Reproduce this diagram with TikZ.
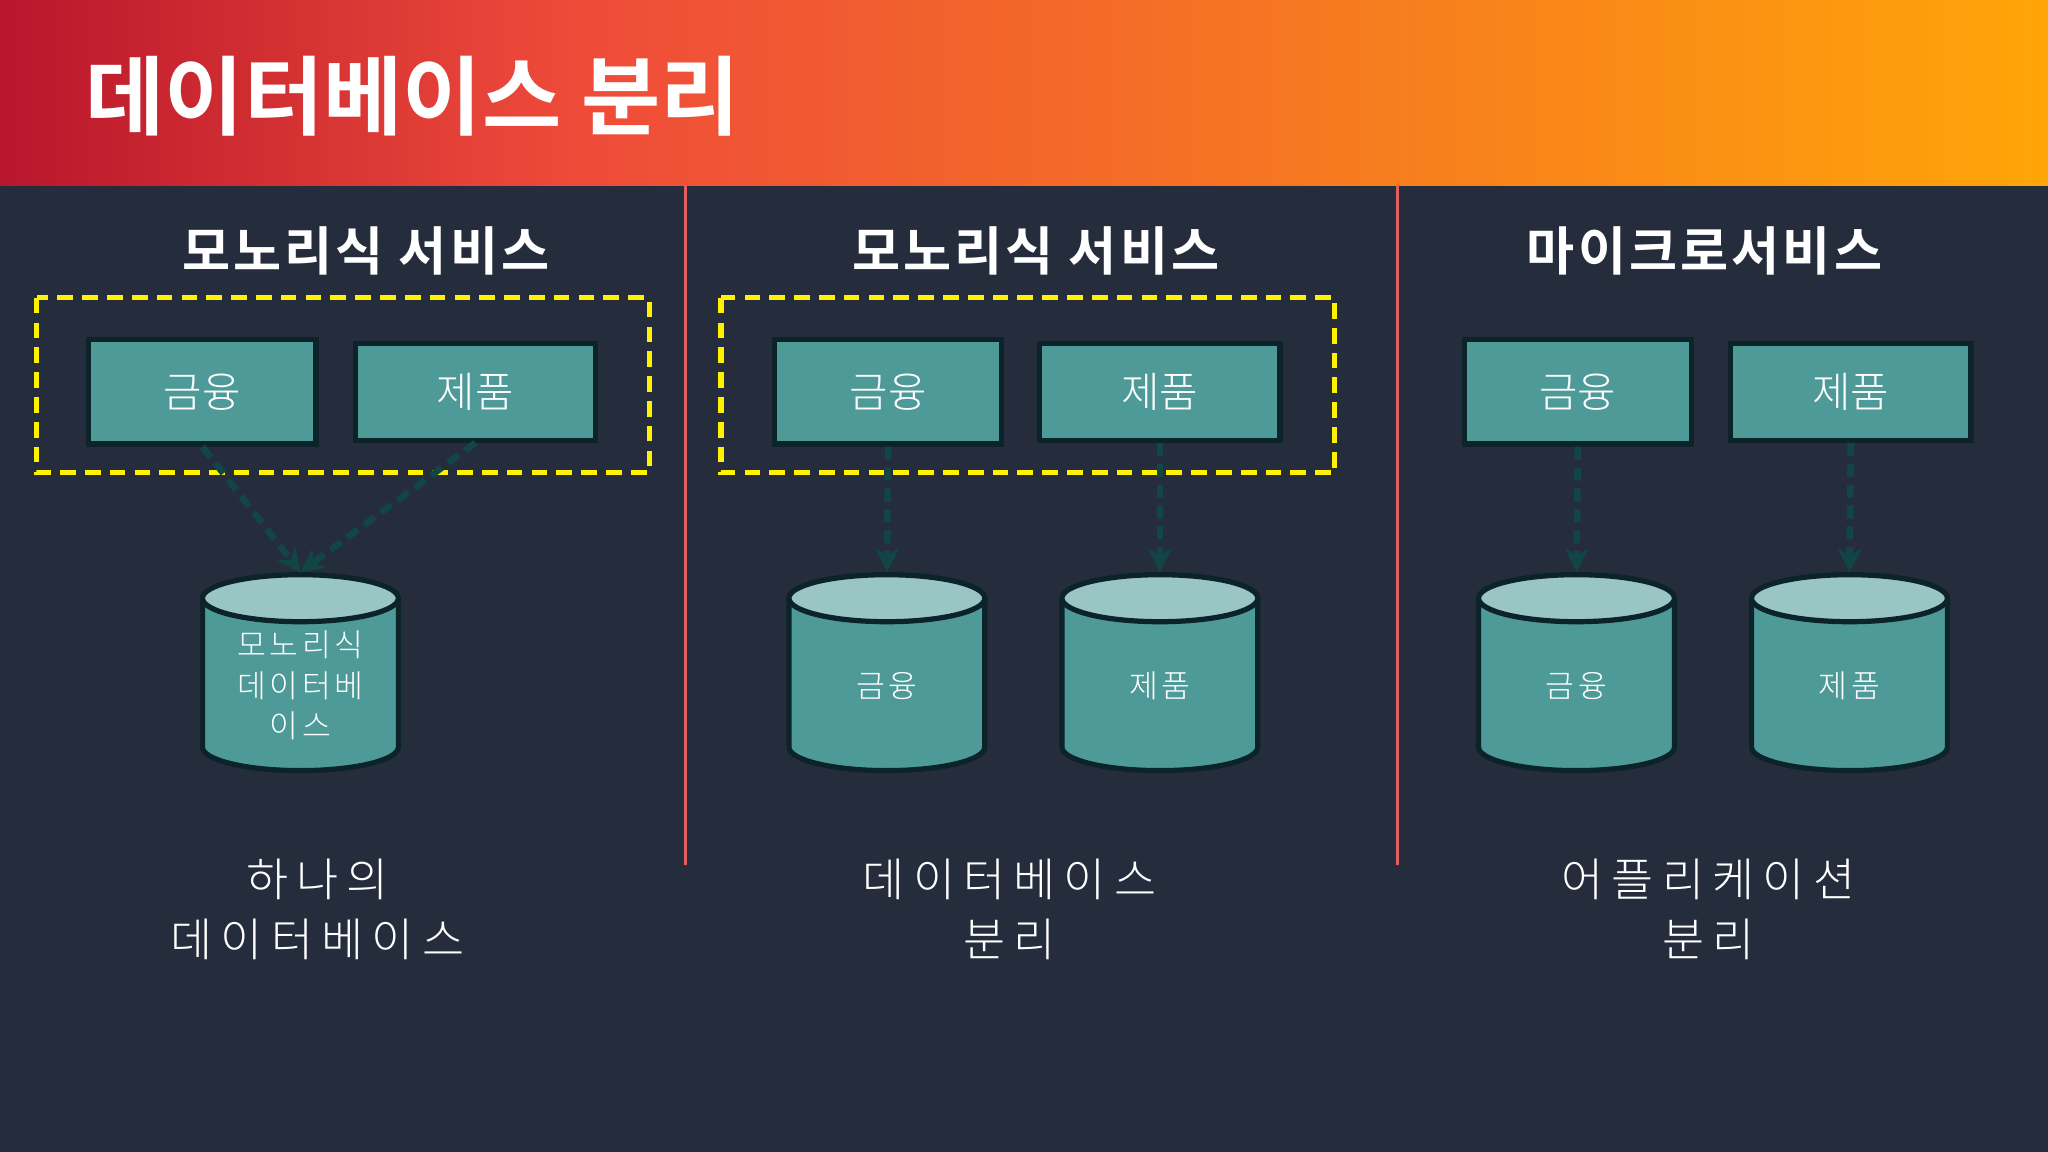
\documentclass[tikz,border=0pt]{standalone}
\usepackage{fontspec}
\setmainfont{Noto Sans CJK KR}
\newfontfamily\kb{Noto Sans CJK KR Bold}[LetterSpace=6]
\newfontfamily\kt{Noto Sans CJK KR Bold}
\newfontfamily\kl{Noto Sans CJK KR Light}
\newfontfamily\kls{Noto Sans CJK KR Light}[LetterSpace=18]
\newfontfamily\klc{Noto Sans CJK KR Light}[LetterSpace=12]
\usetikzlibrary{arrows.meta}
\definecolor{bg}{HTML}{252D3D}
\definecolor{teal}{HTML}{4E9A98}
\definecolor{tealtop}{HTML}{9AC5C5}
\definecolor{edge}{HTML}{0B2329}
\definecolor{arr}{HTML}{124646}
\definecolor{hred}{HTML}{B8162C}
\definecolor{hmid}{HTML}{EE4A3A}
\definecolor{horange}{HTML}{FFA508}
\definecolor{divc}{HTML}{E06060}
\tikzset{
 svc/.style={draw=edge,line width=4pt,fill=teal,text=white,font=\kl\fontsize{32}{36}\selectfont},
 grp/.style={draw=yellow,dashed,dash pattern=on 12pt off 7pt,line width=4pt},
 link/.style={draw=arr,line width=5pt,dashed,dash pattern=on 10pt off 6pt,-{Stealth[length=18pt,width=18pt,fill=arr]}},
 head/.style={text=white,font=\kb\fontsize{40}{44}\selectfont},
 captext/.style={text=white,font=\kls\fontsize{35}{46}\selectfont,align=center},
 ctext/.style={text=white,font=\klc\fontsize{24}{31}\selectfont,align=center},
 divider/.style={draw=divc,line width=2.5pt}
}
\newcommand{\mycyl}[3]{% name, x, label
 \fill[teal] (#2-75,458) rectangle (#2+75,572);
 \fill[teal] (#2,572) ellipse (75 and 18);
 \draw[edge,line width=4pt] (#2-75,458) -- (#2-75,572) arc[start angle=180,end angle=0,x radius=75,y radius=18] -- (#2+75,458);
 \draw[edge,line width=4pt,fill=tealtop] (#2,458) ellipse (75 and 18);
 \node[ctext] (#1) at (#2,525) {#3};
 \coordinate (#1top) at (#2,438);
}
\begin{document}
\begin{tikzpicture}[x=1pt,y=-1pt]
\useasboundingbox (0,0) rectangle (1568,882);
\fill[bg] (0,0) rectangle (1568,882);
\shade[left color=hred,right color=hmid] (0,0) rectangle (430,142);
\shade[left color=hmid,right color=horange] (429,0) rectangle (1568,142);
\node[text=white,font=\kt\fontsize{66}{70}\selectfont,anchor=west] (title) at (62,74) {데이터베이스 분리};
\draw[divider] (525,142) -- (525,662);
\draw[divider] (1070,142) -- (1070,662);
% headings
\node[head] (h1) at (280,192) {모노리식 서비스};
\node[head] (h2) at (793,192) {모노리식 서비스};
\node[head] (h3) at (1305,192) {마이크로서비스};
% groups
\draw[grp] (28,228) rectangle (497,362);
\draw[grp] (552,228) rectangle (1022,362);
% panel 1
\node[svc,minimum width=174pt,minimum height=80pt] (a1) at (155,300) {금융};
\node[svc,minimum width=184pt,minimum height=74pt] (b1) at (364,300) {제품};
\mycyl{d1}{230}{모노리식\\데이터베\\이스}
\draw[link] (a1.south) -- (d1top);
\draw[link] (b1.south) -- (d1top);
% panel 2
\node[svc,minimum width=174pt,minimum height=80pt] (a2) at (680,300) {금융};
\node[svc,minimum width=184pt,minimum height=74pt] (b2) at (888,300) {제품};
\mycyl{d2}{679}{금융}
\mycyl{e2}{888}{제품}
\draw[link] (a2.south) -- (d2top);
\draw[link] (b2.south) -- (e2top);
% panel 3
\node[svc,minimum width=174pt,minimum height=80pt] (a3) at (1208,300) {금융};
\node[svc,minimum width=184pt,minimum height=74pt] (b3) at (1417,300) {제품};
\mycyl{d3}{1207}{금융}
\mycyl{e3}{1416}{제품}
\draw[link] (a3.south) -- (d3top);
\draw[link] (b3.south) -- (e3top);
% captions
\node[captext] (c1) at (243,696) {하나의\\데이터베이스};
\node[captext] (c2) at (773,696) {데이터베이스\\분리};
\node[captext] (c3) at (1308,696) {어플리케이션\\분리};
\end{tikzpicture}
\end{document}
